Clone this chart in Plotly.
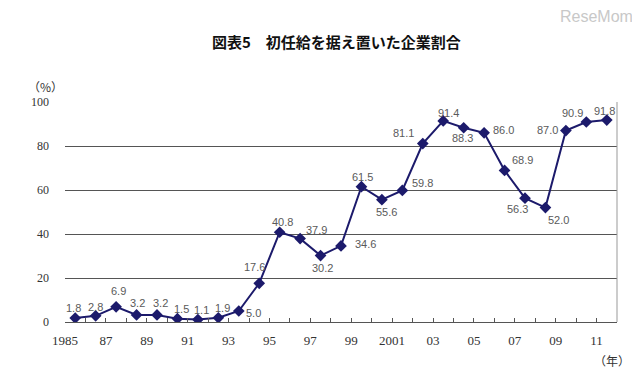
import plotly.graph_objects as go

years = list(range(1985, 2012))
values = [1.8, 2.8, 6.9, 3.2, 3.2, 1.5, 1.1, 1.9, 5.0, 17.6, 40.8, 37.9, 30.2, 34.6,
          61.5, 55.6, 59.8, 81.1, 91.4, 88.3, 86.0, 68.9, 56.3, 52.0, 87.0, 90.9, 91.8]
tick_labels = ["1985", "87", "89", "91", "93", "95", "97", "99", "2001",
               "03", "05", "07", "09", "11"]

# label offsets (style only, px)
lab_dx = [-2, 0, 2, 1, 3, 4, 4, 4, 15, -5, 3, 16, 2, 24, 1, 5, 20, -19, 5, -1, 19, 18, -8, 13, -18, -14, -2]
lab_dy = [10, 9, 16, 12, 12, 10, 10, 10, -2, 16, 10, 9, -12, 2, 10, -12, 7, 11, 8, -10, 3, 10, -11, -12, 1, 9, 9]

xs = list(range(len(years)))
navy = "#1c1a6b"

fig = go.Figure()
fig.add_trace(go.Scatter(
    x=xs, y=values, mode="lines+markers",
    line=dict(color=navy, width=2),
    marker=dict(symbol="diamond", size=9, color=navy),
    hoverinfo="skip", showlegend=False,
))

for i, v in enumerate(values):
    fig.add_annotation(x=xs[i], y=v, text=f"{v:.1f}", showarrow=False,
                       xshift=lab_dx[i], yshift=lab_dy[i],
                       font=dict(family="Liberation Sans, Arial", size=11, color="#5a5a5a"))

tick_pos = [i - 0.5 for i in range(0, len(years), 2)]

# the page body has an 8px margin, so the figure is 8px smaller and margins shifted
fig.update_layout(
    width=632, height=376,
    margin=dict(l=57, r=23, t=94, b=62),
    paper_bgcolor="white", plot_bgcolor="white",
    xaxis=dict(range=[-0.5, len(years) - 0.5], tickmode="array",
               tickvals=tick_pos, ticktext=tick_labels,
               ticks="inside", ticklen=4, tickcolor="#555",
               showgrid=False, showline=True, linecolor="#555", linewidth=1,
               zeroline=False,
               tickfont=dict(family="Liberation Serif, Times New Roman", size=13, color="#333"),
               minor=dict(tickmode="linear", tick0=-0.5, dtick=1, ticks="inside",
                          ticklen=4, tickcolor="#555", showgrid=False),
               ticklabelstandoff=6, fixedrange=True),
    yaxis=dict(range=[0, 100], tickvals=[0, 20, 40, 60, 80, 100],
               showgrid=True, gridcolor="#555", gridwidth=1,
               zeroline=False, showline=False, ticks="",
               tickfont=dict(family="Liberation Serif, Times New Roman", size=12, color="#333"),
               ticklabelstandoff=15, fixedrange=True),
    shapes=[dict(type="line", xref="paper", yref="paper", x0=1, x1=1, y0=0, y1=1,
                 line=dict(color="#999", width=1))],
)

fig.add_annotation(text="<b>図表5　初任給を据え置いた企業割合</b>", xref="paper", yref="paper",
                   x=0.5, y=1, xanchor="center", yanchor="middle", yshift=61,
                   xshift=-5, showarrow=False,
                   font=dict(family="Noto Sans CJK JP", size=15, color="#111"))
fig.add_annotation(text="ReseMom", xref="paper", yref="paper", x=1, y=1,
                   xanchor="right", yanchor="middle", xshift=18, yshift=86,
                   showarrow=False,
                   font=dict(family="Liberation Sans, Arial", size=16, color="#c8c8c8"))
fig.add_annotation(text="（%）", xref="paper", yref="paper", x=0, y=1,
                   xanchor="center", yanchor="middle", xshift=-20, yshift=16,
                   showarrow=False,
                   font=dict(family="Noto Sans CJK JP", size=12, color="#333"))
fig.add_annotation(text="（年）", xref="paper", yref="paper", x=1, y=0,
                   xanchor="center", yanchor="middle", xshift=-5, yshift=-38,
                   showarrow=False,
                   font=dict(family="Noto Sans CJK JP", size=12, color="#333"))

fig.write_html("out.html")
